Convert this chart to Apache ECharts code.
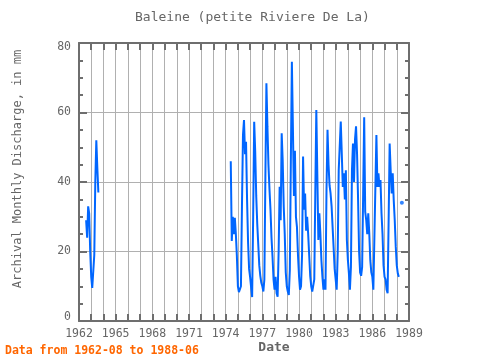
<!DOCTYPE html>
<html>
<head>
<meta charset="utf-8">
<script src="https://cdn.jsdelivr.net/npm/echarts@6/dist/echarts.min.js"></script>
<style>
html,body{margin:0;padding:0;background:#fff;}
#chart{width:480px;height:360px;}
</style>
</head>
<body>
<div id="chart"></div>
<script>
// Monthly discharge (mm), Jan..Dec per year; null = no data
const v1962 = [null, null, null, null, null, null, null, 29, 24, 33, 31, 20];
const v1963 = [12.7, 9.5, 9, 19, 40, 52, 44, 37, null, null, null, null];
const v1974 = [null, null, null, null, null, 46, 23, 30, 25, 29.7, 25, 18.7];
const v1975 = [10, 8.3, 7.8, 10, 33, 53.5, 57.8, 48, 51.6, 35, 22.6, 15];
const v1976 = [12.6, 9.7, 6.9, 30, 57.3, 48.8, 36, 28, 22, 16, 13, 11];
const v1977 = [10, 8.5, 12, 41.5, 68.4, 56, 45, 38, 32, 24, 18.5, 12];
const v1978 = [9, 12.7, 8, 7, 20, 38.6, 29, 54, 46, 33, 25, 14];
const v1979 = [10, 8.5, 7.5, 14.7, 46.3, 74.6, 56, 36, 49, 30, 27, 19];
const v1980 = [13, 9, 10, 19, 47.3, 32, 36.7, 26, 30, 25, 19, 13];
const v1981 = [10, 8.5, 9, 12, 36.7, 60.7, 42, 23.3, 31, 25, 17.5, 12.7];
const v1982 = [9, 12, 9, 37.7, 55, 45, 39, 36.7, 33, 27, 21, 15];
const v1983 = [12, 9, 19.5, 43.4, 43, 57.4, 48.2, 38.6, 42.5, 35, 43.4, 23.3];
const v1984 = [17.5, 13.7, 9, 15.6, 43.4, 51.1, 40, 52.3, 56, 48, 35, 20];
const v1985 = [14, 13, 15.6, 36.7, 58.6, 31.5, 29, 25, 31, 25.2, 17.5, 14];
const v1986 = [12.7, 9, 8.9, 38.6, 53.5, 38.6, 42.5, 38.6, 40.6, 31, 25, 16];
const v1987 = [12.7, 12, 9, 8, 29, 51.1, 43.4, 36.7, 42.5, 34.8, 29, 21.4];
const v1988 = [16, 13.7, 12.7, null, null, 34, null, null, null, null, null, null];

const yearData = {1962: v1962, 1963: v1963, 1974: v1974, 1975: v1975, 1976: v1976,
  1977: v1977, 1978: v1978, 1979: v1979, 1980: v1980, 1981: v1981, 1982: v1982,
  1983: v1983, 1984: v1984, 1985: v1985, 1986: v1986, 1987: v1987, 1988: v1988};

const yTicks = [0, 20, 40, 60, 80];
const xLabelYears = [1962, 1965, 1968, 1971, 1974, 1977, 1980, 1983, 1986, 1989];

const titleText = 'Baleine (petite Riviere De La)';
const yName = 'Archival Monthly Discharge, in mm';
const xName = 'Date';
const footer = 'Data from 1962-08 to 1988-06';

// build series
const lineData = [];
for (let y = 1962; y <= 1988; y++) {
  const arr = yearData[y] || new Array(12).fill(null);
  for (let m = 0; m < 12; m++) {
    lineData.push([y + m / 12, arr[m]]);
  }
}
const isolated = [];
for (let i = 0; i < lineData.length; i++) {
  const v = lineData[i][1];
  if (v == null) continue;
  const p = i > 0 ? lineData[i - 1][1] : null;
  const n = i < lineData.length - 1 ? lineData[i + 1][1] : null;
  if (p == null && n == null) isolated.push(lineData[i]);
}

const FONT = 'DejaVu Sans Mono';
const AX = '#6e6e6e';
const GRID = '#b0b0b0';
const BLUE = '#0066ff';

const chart = echarts.init(document.getElementById('chart'), null, {renderer: 'canvas'});
const xBase = {
  type: 'value', min: 1962, max: 1989, interval: 1,
  axisLine: {show: true, onZero: false, lineStyle: {color: AX, width: 2}},
  axisTick: {show: true, inside: true, length: 7, lineStyle: {color: AX, width: 2}}
};
const yBase = {
  type: 'value', min: 0, max: 80, interval: 20,
  axisLine: {show: true, onZero: false, lineStyle: {color: AX, width: 2}},
  axisTick: {show: true, inside: true, length: 8, lineStyle: {color: AX, width: 2}},
  minorTick: {show: true, splitNumber: 4, length: 4, lineStyle: {color: AX, width: 2}}
};
chart.setOption({
  animation: false,
  grid: {left: 79, right: 71, top: 43, bottom: 39},
  xAxis: [
    Object.assign({}, xBase, {
      position: 'bottom',
      splitLine: {show: true, lineStyle: {color: GRID, width: 1}},
      axisLabel: {
        color: '#666', fontFamily: FONT, fontSize: 11.5, margin: 7,
        formatter: function (v) {
          const yr = Math.round(v);
          return xLabelYears.indexOf(yr) >= 0 ? String(yr) : '';
        }
      }
    }),
    Object.assign({}, xBase, {
      position: 'top',
      splitLine: {show: false},
      axisLabel: {show: false}
    })
  ],
  yAxis: [
    Object.assign({}, yBase, {
      position: 'left',
      splitLine: {show: true, lineStyle: {color: GRID, width: 1}},
      axisLabel: {
        color: '#666', fontFamily: FONT, fontSize: 11.5, margin: 8,
        formatter: function (v) {
          if (yTicks.indexOf(v) < 0) return '';
          if (v === 80) return '{hi|' + v + '}';
          if (v === 0) return '{lo|' + v + '}';
          return String(v);
        },
        rich: {
          hi: {color: '#666', fontFamily: FONT, fontSize: 11.5, padding: [8, 0, 0, 0]},
          lo: {color: '#666', fontFamily: FONT, fontSize: 11.5, padding: [0, 0, 8, 0]}
        }
      }
    }),
    Object.assign({}, yBase, {
      position: 'right',
      splitLine: {show: false},
      axisLabel: {show: false}
    })
  ],
  graphic: [
    {type: 'text', left: 135, top: 11,
     style: {text: titleText, fill: '#666', font: '13px "' + FONT + '"'}},
    {type: 'text', x: 274, y: 348,
     style: {text: xName, fill: '#666', font: 'bold 13px "' + FONT + '"', textAlign: 'center', textVerticalAlign: 'middle'}},
    {type: 'text', x: 17.5, y: 169, rotation: Math.PI / 2,
     style: {text: yName, fill: '#666', font: '12px "' + FONT + '"', textAlign: 'center', textVerticalAlign: 'middle'}},
    {type: 'text', left: 5, top: 345,
     style: {text: footer, fill: '#ff6600', font: 'bold 11.5px "' + FONT + '"'}}
  ],
  series: [
    {type: 'line', xAxisIndex: 0, yAxisIndex: 0, data: lineData, showSymbol: false,
     connectNulls: false, lineStyle: {color: BLUE, width: 2}, itemStyle: {color: BLUE}},
    {type: 'scatter', xAxisIndex: 0, yAxisIndex: 0, data: isolated, symbolSize: 4,
     itemStyle: {color: BLUE}}
  ]
});
</script>
</body>
</html>
